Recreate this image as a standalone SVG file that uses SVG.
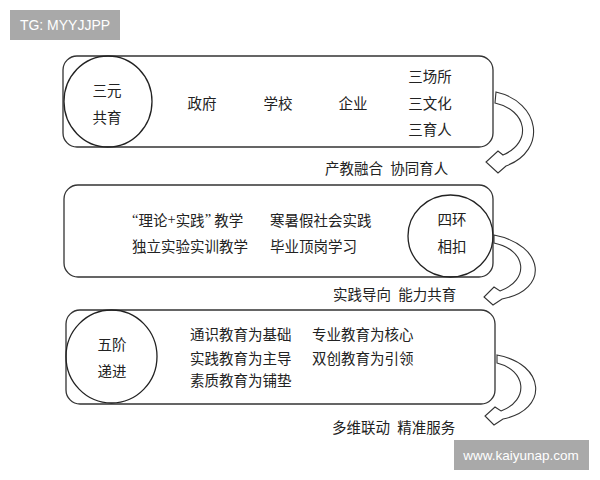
<svg xmlns="http://www.w3.org/2000/svg" width="600" height="480" viewBox="0 0 600 480">
<style>
.box{fill:#fff;stroke:#333;stroke-width:1.3}
.ring{fill:none;stroke:#222;stroke-width:1.3}
.t{font-family:"Noto Sans CJK SC","Noto Sans",sans-serif;font-size:14.5px;fill:#222;dominant-baseline:central}
.c{text-anchor:middle}
.lat{font-family:"Liberation Serif","Noto Sans CJK SC",serif}
.arr{fill:#fff;stroke:#333;stroke-width:1.1;stroke-linejoin:miter}
.wm{fill:#a9a9a9}
.wmt{font-family:"Liberation Sans",Arial,sans-serif;fill:#fff;text-anchor:middle;dominant-baseline:central}
</style>
<rect width="600" height="480" fill="#fff"/>
<g id="tier1">
<rect class="box" x="63" y="56" width="430" height="91" rx="14"/>
<ellipse class="ring" cx="108" cy="101.5" rx="44" ry="45.5"/>
<text class="t c" x="107" y="89">三元</text>
<text class="t c" x="107" y="116">共育</text>
<text class="t c" x="202" y="102">政府</text>
<text class="t c" x="278" y="102">学校</text>
<text class="t c" x="353" y="102">企业</text>
<text class="t c" x="430" y="75">三场所</text>
<text class="t c" x="430" y="102">三文化</text>
<text class="t c" x="430" y="128">三育人</text>
</g>
<g id="label1"><text class="t" x="325" y="167">产教融合<tspan dx="4"> 协同育人</tspan></text></g>
<g id="tier2">
<rect class="box" x="64" y="185" width="429" height="92" rx="14"/>
<ellipse class="ring" cx="450.5" cy="236" rx="42.5" ry="41"/>
<text class="t c" x="452" y="218">四环</text>
<text class="t c" x="452" y="245">相扣</text>
<text class="t" x="132" y="219"><tspan class="lat">“</tspan>理论<tspan class="lat">+</tspan>实践<tspan class="lat">”</tspan> 教学</text>
<text class="t" x="270" y="219">寒暑假社会实践</text>
<text class="t" x="132" y="245">独立实验实训教学</text>
<text class="t" x="270" y="245">毕业顶岗学习</text>
</g>
<g id="label2"><text class="t" x="333" y="293">实践导向<tspan dx="4"> 能力共育</tspan></text></g>
<g id="tier3">
<rect class="box" x="66" y="310" width="429" height="94" rx="14"/>
<ellipse class="ring" cx="111.5" cy="356.5" rx="45.5" ry="46.5"/>
<text class="t c" x="112" y="343">五阶</text>
<text class="t c" x="112" y="370">递进</text>
<text class="t" x="190" y="333">通识教育为基础</text>
<text class="t" x="312" y="333">专业教育为核心</text>
<text class="t" x="190" y="357">实践教育为主导</text>
<text class="t" x="312" y="357">双创教育为引领</text>
<text class="t" x="190" y="379">素质教育为铺垫</text>
</g>
<g id="label3"><text class="t" x="332" y="426">多维联动<tspan dx="4"> 精准服务</tspan></text></g>
<g id="connectors">
<path class="arr" d="M 496,92 C 540,102 548,150 506,166 L 498,173 L 486,162 L 498,151 L 503,155 C 533,142 527,110 495,103 Z"/>
<path class="arr" d="M 494,235 C 545,245 550,290 502,299 L 493,305 L 484,297 L 494,287 L 500,291 C 530,280 527,250 494,243 Z"/>
<path class="arr" d="M 497,355 C 546,364 549,410 503,419 L 494,425 L 485,416 L 495,407 L 501,411 C 530,400 526,370 497,363 Z"/>
</g>
<g id="watermarks">
<rect class="wm" x="10" y="10" width="110" height="30"/>
<text class="wmt" x="65" y="25" font-size="14">TG: MYYJJPP</text>
<rect class="wm" x="454" y="440" width="135" height="30"/>
<text class="wmt" x="521" y="455" font-size="13.5">www.kaiyunap.com</text>
</g>
</svg>
